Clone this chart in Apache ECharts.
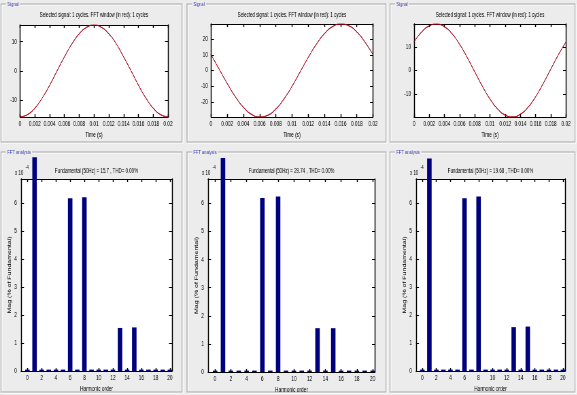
<!DOCTYPE html>
<html><head><meta charset="utf-8">
<script src="https://cdn.jsdelivr.net/npm/echarts@6/dist/echarts.min.js"></script>
<style>
html,body{margin:0;padding:0;overflow:hidden;background:#ececec;}
#chart{height:395px;transform-origin:0 0;}
</style>
</head><body><div id="chart"></div>
<script>
// ---- data ----
const times = [0,0.001,0.002,0.003,0.004,0.005,0.006,0.007,0.008,0.009,0.01,0.011,0.012,0.013,0.014,0.015,0.016,0.017,0.018,0.019,0.02];
const signalA = [-15.7,-14.9,-12.7,-9.2,-4.9,0,4.8,9.2,12.7,14.9,15.7,14.9,12.7,9.3,4.8,0.1,-4.8,-9.2,-12.7,-14.9,-15.7];
const signalB = [10.1,0.9,-8.3,-16.7,-23.5,-28.0,-29.7,-28.6,-24.6,-18.2,-10.1,-0.9,8.3,16.7,23.5,28.0,29.7,28.6,24.6,18.2,10.1];
const signalC = [12.1,16.3,18.9,19.7,18.5,15.6,11.1,5.5,-0.6,-6.7,-12.1,-16.3,-18.9,-19.7,-18.5,-15.6,-11.1,-5.5,0.6,6.7,12.1];
const timeTicks = [0,0.002,0.004,0.006,0.008,0.01,0.012,0.014,0.016,0.018,0.02];
const signalTicksA = [-10,0,10];
const signalTicksB = [-20,-10,0,10,20];
const signalTicksC = [-10,0,10];

const harmonics = [0,1,2,3,4,5,6,7,8,9,10,11,12,13,14,15,16,17,18,19,20];
const fftA = [0.05,7.65,0.05,0.05,0.05,0.05,6.18,0.05,6.22,0.05,0.05,0.05,0.05,1.54,0.05,1.56,0.05,0.05,0.05,0.05,0.05];
const fftB = [0.05,7.62,0.05,0.05,0.05,0.05,6.19,0.05,6.25,0.05,0.05,0.05,0.05,1.56,0.05,1.56,0.05,0.05,0.05,0.05,0.05];
const fftC = [0.05,7.60,0.05,0.05,0.05,0.05,6.18,0.05,6.24,0.05,0.05,0.05,0.05,1.57,0.05,1.59,0.05,0.05,0.05,0.05,0.05];
const harmonicTicks = [0,2,4,6,8,10,12,14,16,18,20];
const magTicks = [0,1,2,3,4,5,6];
const magMax = 6.87;
const harmonicMin = -0.9, harmonicMax = 20.3;

const fundamentals = ['15.7','29.74','19.68'];
const thd = ['0.00','0.00','0.00'];
const signalTitle = 'Selected signal: 1 cycles. FFT window (in red): 1 cycles';

// ---- layout (real px, horizontal squeeze applied via CSS) ----
const S = 0.68;
const el = document.getElementById('chart');
el.style.width = (577 / S) + 'px';
el.style.transform = 'scaleX(' + S + ')';
const X = px => px / S;
const FONT = '"Liberation Sans", Arial, sans-serif';

const boxes = [
  {l:20, t:25, w:148, h:92},
  {l:211, t:24, w:162, h:93},
  {l:414, t:24, w:152, h:93},
  {l:21, t:179, w:151, h:192},
  {l:208, t:179, w:167, h:193},
  {l:416, t:179, w:149, h:192}
];

const grid = boxes.map(b => ({left:X(b.l), top:b.t, width:X(b.w), height:b.h, show:true, backgroundColor:'#fff', borderWidth:0}));

const lineX = {show:true, onZero:false, lineStyle:{color:'#000', width:1}};
const lineY = {show:true, onZero:false, lineStyle:{color:'#000', width:1/S}};
const tickX = (vals) => ({show:true, inside:true, length:3, lineStyle:{color:'#000', width:1/S}, customValues:vals});
const tickY = (vals) => ({show:true, inside:true, length:X(3), lineStyle:{color:'#000', width:1}, customValues:vals});
const lbl = (vals, margin, fmt) => ({show:true, fontSize:7, color:'#000', fontFamily:FONT, margin:margin, customValues:vals, formatter:fmt});

const xAxis = [], yAxis = [];
const signals = [signalA, signalB, signalC];
const sigTicks = [signalTicksA, signalTicksB, signalTicksC];
const ffts = [fftA, fftB, fftC];

for (let i = 0; i < 3; i++) {
  const fmt = v => String(+(+v).toFixed(3));
  xAxis.push({type:'value', gridIndex:i, position:'bottom', min:0, max:0.02,
    axisLine:lineX, axisTick:tickX(timeTicks), axisLabel:lbl(timeTicks, 4, fmt), splitLine:{show:false},
    name:'Time (s)', nameLocation:'middle', nameGap:15, nameTextStyle:{fontSize:7, color:'#000', fontFamily:FONT}});
  xAxis.push({type:'value', gridIndex:i, position:'top', min:0, max:0.02,
    axisLine:lineX, axisTick:tickX(timeTicks), axisLabel:{show:false}, splitLine:{show:false}});
  const mn = Math.min(...signals[i]), mx = Math.max(...signals[i]);
  yAxis.push({type:'value', gridIndex:i, position:'left', min:mn, max:mx,
    axisLine:lineY, axisTick:tickY(sigTicks[i]), axisLabel:lbl(sigTicks[i], X(3)), splitLine:{show:false}});
  yAxis.push({type:'value', gridIndex:i, position:'right', min:mn, max:mx,
    axisLine:lineY, axisTick:tickY(sigTicks[i]), axisLabel:{show:false}, splitLine:{show:false}});
}
for (let j = 0; j < 3; j++) {
  const gi = j + 3;
  xAxis.push({type:'value', gridIndex:gi, position:'bottom', min:harmonicMin, max:harmonicMax,
    axisLine:lineX, axisTick:tickX(harmonicTicks), axisLabel:lbl(harmonicTicks, 4), splitLine:{show:false},
    name:'Harmonic order', nameLocation:'middle', nameGap:15, nameTextStyle:{fontSize:7, color:'#000', fontFamily:FONT}});
  xAxis.push({type:'value', gridIndex:gi, position:'top', min:harmonicMin, max:harmonicMax,
    axisLine:lineX, axisTick:tickX(harmonicTicks), axisLabel:{show:false}, splitLine:{show:false}});
  yAxis.push({type:'value', gridIndex:gi, position:'left', min:0, max:magMax,
    axisLine:lineY, axisTick:tickY(magTicks), axisLabel:lbl(magTicks, X(4)), splitLine:{show:false},
    name:'Mag (% of Fundamental)', nameLocation:'middle', nameRotate:90, nameGap:X(9),
    nameTextStyle:{fontSize:7, color:'#000', fontFamily:FONT}});
  yAxis.push({type:'value', gridIndex:gi, position:'right', min:0, max:magMax,
    axisLine:lineY, axisTick:tickY(magTicks), axisLabel:{show:false}, splitLine:{show:false}});
}

const series = [];
for (let i = 0; i < 3; i++) {
  const d = times.map((t, k) => [t, signals[i][k]]);
  series.push({type:'line', xAxisIndex:2*i, yAxisIndex:2*i, data:d, smooth:true, showSymbol:false,
    lineStyle:{color:'#000', width:0.8}, silent:true});
  series.push({type:'line', xAxisIndex:2*i, yAxisIndex:2*i, data:d, smooth:true, showSymbol:false,
    lineStyle:{color:'#e8001c', width:1, opacity:0.9}, silent:true});
}
for (let j = 0; j < 3; j++) {
  const gi = j + 3;
  series.push({type:'bar', xAxisIndex:2*gi, yAxisIndex:2*gi, data:harmonics.map((h, k) => [h, ffts[j][k]]),
    barWidth:X(4.5), clip:false, itemStyle:{color:'#00007f'}, silent:true});
}

// ---- decorations: panel frames, titles, labels ----
const graphic = [];
const frames = [
  {x:1,y:4,w:181,h:138,label:'Signal'},
  {x:187,y:4,w:199,h:138,label:'Signal'},
  {x:390,y:4,w:185,h:138,label:'Signal'},
  {x:1,y:152,w:181,h:240,label:'FFT analysis'},
  {x:187,y:152,w:199,h:240,label:'FFT analysis'},
  {x:390,y:152,w:185,h:240,label:'FFT analysis'}
];
frames.forEach(f => {
  graphic.push({type:'rect', z:-5, shape:{x:X(f.x+1), y:f.y+1, width:X(f.w), height:f.h}, style:{fill:'none', stroke:'#ffffff', lineWidth:1.2}});
  graphic.push({type:'rect', z:-4, shape:{x:X(f.x), y:f.y, width:X(f.w), height:f.h}, style:{fill:'none', stroke:'#a8a8a8', lineWidth:1.2}});
  graphic.push({type:'text', z:-3, x:X(f.x+5), y:f.y, style:{text:f.label, font:'6px ' + FONT, fill:'#3c3cb4',
    backgroundColor:'#ececec', padding:[0,2], align:'left', verticalAlign:'middle', textAlign:'left', textVerticalAlign:'middle'}});
});
for (let i = 0; i < 3; i++) {
  const b = boxes[i];
  graphic.push({type:'text', x:X(b.l + b.w/2), y:15, style:{text:signalTitle, font:'6.5px ' + FONT, fill:'#000',
    align:'center', verticalAlign:'middle', textAlign:'center', textVerticalAlign:'middle'}});
}
for (let j = 0; j < 3; j++) {
  const b = boxes[j+3];
  graphic.push({type:'text', x:X(b.l + b.w/2), y:171, style:{text:'Fundamental (50Hz) = ' + fundamentals[j] + ' , THD= ' + thd[j] + '%',
    font:'6.5px ' + FONT, fill:'#000', align:'center', verticalAlign:'middle', textAlign:'center', textVerticalAlign:'middle'}});
  graphic.push({type:'text', x:X(b.l - 6), y:173, style:{text:'x 10', font:'6.5px ' + FONT, fill:'#000',
    align:'left', verticalAlign:'middle', textAlign:'left', textVerticalAlign:'middle'}});
  graphic.push({type:'text', x:X(b.l + 4.5), y:167.5, style:{text:'-4', font:'5px ' + FONT, fill:'#000',
    align:'left', verticalAlign:'middle', textAlign:'left', textVerticalAlign:'middle'}});
}

const chart = echarts.init(el, null, {renderer:'canvas'});
chart.setOption({
  animation:false,
  backgroundColor:'#ececec',
  textStyle:{fontFamily:FONT},
  grid, xAxis, yAxis, series, graphic
});
</script>
</body></html>
